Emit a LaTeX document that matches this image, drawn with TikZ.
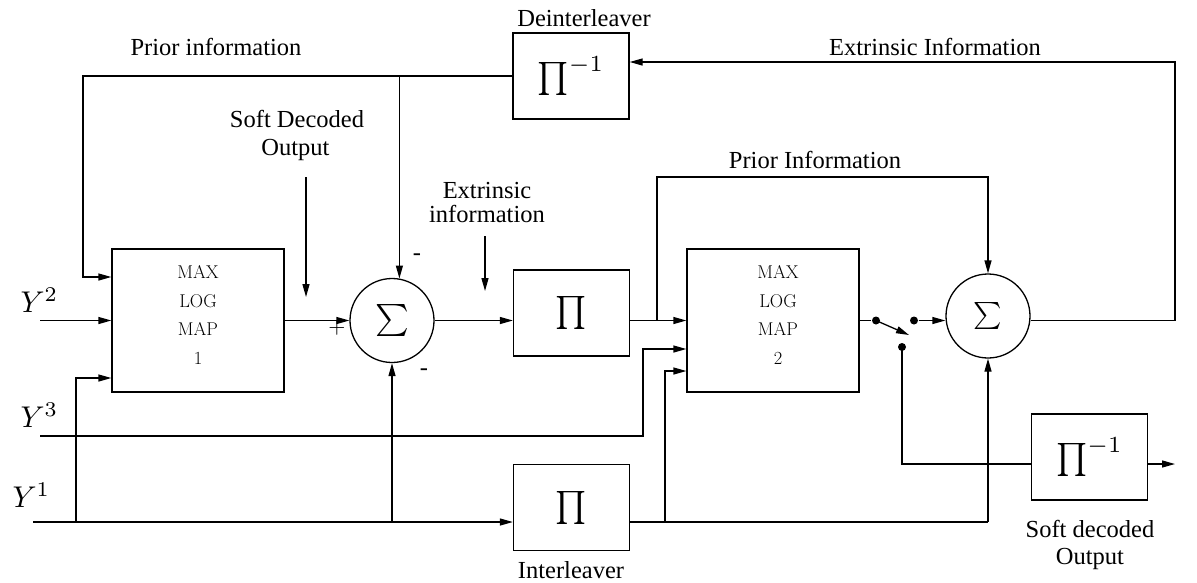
\documentclass[tikz,border=0pt]{standalone}
\usepackage{graphicx}
\usepackage{fontspec}
\newfontfamily\lblfont{Liberation Serif}
\usetikzlibrary{arrows.meta,calc}
\begin{document}
\begin{tikzpicture}[x=1pt,y=-1pt,line width=1.3pt,
  >={Triangle[length=13pt,width=7pt]},
  mapbox/.style={draw,minimum width=172pt,minimum height=143pt,inner sep=0pt},
  pibox/.style={draw,minimum width=116pt,minimum height=86pt,inner sep=0pt},
  sumnode/.style={draw,circle,minimum size=84pt,inner sep=0pt},
  lbl/.style={font=\lblfont\fontsize{24.5}{29}\selectfont,inner sep=0pt,anchor=base},
  maptxt/.style={font=\fontsize{18.5}{28.7}\selectfont,align=center,inner sep=0pt},
  dot/.style={circle,fill,inner sep=0pt,minimum size=8pt},
  ylbl/.style={inner sep=0pt,anchor=base west}]
\useasboundingbox (0,0) rectangle (1197,582);

% blocks
\node[mapbox] (map1) at (198,320.5) {};
\node[maptxt] (map1t) at (198,315) {MAX\\LOG\\MAP\\1};
\node[mapbox] (map2) at (773,320.5) {};
\node[maptxt] (map2t) at (778,315) {MAX\\LOG\\MAP\\2};
\node[sumnode] (sum1) at (392,320.5) {\scalebox{3.2}{$\sum$}};
\node[sumnode] (sum2) at (988,316) {\scalebox{2.7}{$\sum$}};
\node[pibox] (deint) at (571,76) {\scalebox{3.3}{$\prod^{-1}$}};
\node[pibox] (pi1) at (571.5,313) {\scalebox{3.3}{$\prod$}};
\node[pibox] (pi2) at (571.5,507.5) {\scalebox{3.3}{$\prod$}};
\node[pibox] (deint2) at (1089.5,457) {\scalebox{3.3}{$\prod^{-1}$}};

% switch dots
\node[dot] (d1) at (876,320.5) {};
\node[dot] (d2) at (914,320.5) {};
\node[dot] (d3) at (902,347) {};

% labels
\node[lbl] (prior1) at (216,55) {Prior information};
\node[lbl] (deintlbl) at (584,26) {Deinterleaver};
\node[lbl] (extr1) at (935,55) {Extrinsic Information};
\node[lbl] (sdo1) at (297,127) {Soft Decoded};
\node[lbl] (sdo2) at (295.5,155) {Output};
\node[lbl] (ext1) at (487,198) {Extrinsic};
\node[lbl] (ext2) at (487,222) {information};
\node[lbl] (prior2) at (815,168) {Prior Information};
\node[lbl] (intlbl) at (571,578) {Interleaver};
\node[lbl] (sdd1) at (1090,537) {Soft decoded};
\node[lbl] (sdd2) at (1090,564) {Output};
\node[inner sep=0pt] (plus) at (337,328) {\scalebox{2.2}{$+$}};
\node[font=\lblfont\fontsize{24.5}{29}\selectfont,inner sep=0pt] (mtop) at (417,257) {-};
\node[font=\lblfont\fontsize{24.5}{29}\selectfont,inner sep=0pt] (mbot) at (424,372) {-};
\node[ylbl] (Y2) at (20,312) {\scalebox{3}{$Y^2$}};
\node[ylbl] (Y3) at (20,427) {\scalebox{3}{$Y^3$}};
\node[ylbl] (Y1) at (12,507) {\scalebox{3}{$Y^1$}};

% coordinates
\coordinate (y2in) at (40,320.5);
\coordinate (y3in) at (40,436);
\coordinate (y1in) at (33,522);
\coordinate (j76) at (76,522);
\coordinate (pl) at (83,277);
\coordinate (j399) at (sum1.80 |- deint.west);
\coordinate (j392) at (sum1.south |- y1in);
\coordinate (j657) at (657,320.5);
\coordinate (pr2) at (988,177);
\coordinate (j643) at (643,436);
\coordinate (j665) at (665,522);
\coordinate (p2o) at (pi2.east |- y1in);
\coordinate (j988) at (sum2.south |- y1in);
\coordinate (sw) at (909,335);
\coordinate (rc) at (1175,320.5);
\coordinate (dein) at ($(deint.east)+(0,-14)$);
\coordinate (d2in) at ($(deint2.west)+(0,7)$);
\coordinate (d2out) at ($(deint2.east)+(0,7)$);
\coordinate (outend) at (1175,464);
\coordinate (sdoA) at (306,177);
\coordinate (sdoB) at (306,297);
\coordinate (extA) at (485,236);
\coordinate (extB) at (485,291);

% connectors: decoder 1
\draw[->] (y2in) -- (y2in -| map1.west);
\draw[->] (y1in) -- (y1in -| pi2.west);
\draw[->] (j76) |- ($(map1.west)+(0,57.5)$);
\draw[->] (j392) -- (sum1.south);
\draw[->] (deint.west) -| (pl) -- (pl -| map1.west);
\draw[->] (j399) -- (sum1.80);
\draw[->] (map1.east) -- (sum1.west);
\draw[->] (sum1.east) -- (sum1.east -| pi1.west);
\draw[->] (sdoA) -- (sdoB);
\draw[->] (extA) -- (extB);

% decoder 2
\draw[->] (pi1.east |- sum1.east) -- (sum1.east -| map2.west);
\draw[->] (j657) |- (pr2) -- (sum2.north);
\draw[->] (y3in) -- (j643) |- ($(map2.west)+(0,28.5)$);
\draw (p2o) -- (j988);
\draw[->] (j988) -- (sum2.south);
\draw[->] (j665) |- ($(map2.west)+(0,50.5)$);

% switch and outputs
\draw (map2.east) -- (d1);
\draw[->] (d1.center) -- (sw);
\draw[->] (d2) -- (d2 -| sum2.west);
\draw[->] (d2 -| sum2.east) -- (rc) |- (dein);
\draw (d3.center) |- (d2in);
\draw[->] (d2out) -- (outend);
\end{tikzpicture}
\end{document}
